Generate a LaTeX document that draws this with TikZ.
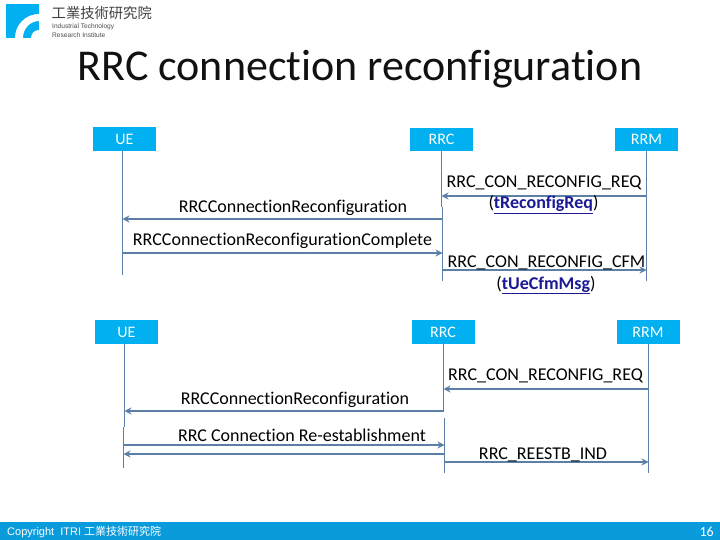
\documentclass[tikz,border=0pt]{standalone}
\usepackage{fontspec}
\usetikzlibrary{arrows.meta}
\setmainfont[Ligatures=NoCommon]{Carlito}
\newfontfamily\cjkf{Noto Sans CJK TC}
\newfontfamily\arialf{Liberation Sans}
\definecolor{boxblue}{HTML}{00B0F0}
\definecolor{linecol}{HTML}{5B7FA6}
\definecolor{footblue}{HTML}{0A9BDC}
\definecolor{linkblue}{HTML}{1A1A96}
\definecolor{titlecol}{HTML}{111111}
\tikzset{
 x=1pt,y=-1pt,
 actor/.style={fill=boxblue,text=white,font=\fontsize{16}{18}\selectfont,inner sep=0pt,minimum width=63pt,minimum height=23.5pt,anchor=center},
 life/.style={draw=linecol,line width=0.9pt},
 msg/.style={draw=linecol,line width=1.9pt,-{Stealth[length=7pt,width=7pt]}},
 lab/.style={font=\fontsize{18}{20}\selectfont,text=black,inner sep=0pt,anchor=base}
}
\newcommand{\lnk}[1]{\textcolor{linkblue}{\underline{\textbf{#1}}}}
\begin{document}
\begin{tikzpicture}
\useasboundingbox (0,0) rectangle (720,540);
\fill[white] (0,0) rectangle (720,540);
% logo
\fill[boxblue] (6,4) rectangle (39,38);
\fill[white] (15,38) arc[start angle=180,end angle=90,x radius=24,y radius=-24] -- (39,21) arc[start angle=90,end angle=180,x radius=16,y radius=-17] -- cycle;
\fill[white] (31,38) arc[start angle=180,end angle=90,x radius=8,y radius=-8] -- (39,38) -- cycle;
\node[font=\cjkf\fontsize{14.3}{15}\selectfont,text=black!75,inner sep=0pt,anchor=west] (logoa) at (51.5,13) {工業技術研究院};
\node[font=\arialf\fontsize{6.6}{7}\selectfont,text=black!70,inner sep=0pt,anchor=west] (logob) at (52,26.5) {Industrial Technology};
\node[font=\arialf\fontsize{6.6}{7}\selectfont,text=black!70,inner sep=0pt,anchor=west] (logoc) at (52,35) {Research Institute};
% title
\node[font=\fontsize{44}{46}\selectfont,text=titlecol,inner sep=0pt,anchor=base] (title) at (360,81) {RRC connection reconfiguration};
% top actors
\node[actor] (ue1) at (124.5,139) {UE};
\node[actor] (rrc1) at (441.5,139.5) {RRC};
\node[actor] (rrm1) at (646.5,139.5) {RRM};
\coordinate (ue1e) at (122.5,275);
\coordinate (rrc1m) at (441.5,207);
\coordinate (rrc1n) at (442.5,207);
\coordinate (rrc1e) at (442.5,281);
\coordinate (rrm1e) at (646.5,281);
\draw[life] (ue1.south -| ue1e) -- (ue1e);
\draw[life] (rrc1.south) -- (rrc1m);
\draw[life] (rrc1n) -- (rrc1e);
\draw[life] (rrm1.south) -- (rrm1e);
\draw[msg] (rrm1e |- 0,196) -- (rrc1m |- 0,196);
\draw[msg] (rrc1n |- 0,219) -- (ue1e |- 0,219);
\draw[msg] (ue1e |- 0,253) -- (rrc1n |- 0,253);
\draw[msg] (rrc1n |- 0,270) -- (rrm1e |- 0,270);
\node[lab] (l1) at (544,188) {RRC\_CON\_RECONFIG\_REQ};
\node[lab] (l2) at (543.5,209) {(\lnk{tReconfigReq})};
\node[lab] (l3) at (293,212) {RRCConnectionReconfiguration};
\node[lab] (l4) at (282.5,245) {RRCConnectionReconfigurationComplete};
\node[lab] (l5) at (546.5,267) {RRC\_CON\_RECONFIG\_CFM};
\node[lab] (l6) at (546,289) {(\lnk{tUeCfmMsg})};
% bottom actors
\node[actor] (ue2) at (126.5,332) {UE};
\node[actor] (rrc2) at (443,332) {RRC};
\node[actor] (rrm2) at (648,332) {RRM};
\coordinate (ue2a) at (124.5,427);
\coordinate (ue2b) at (123.5,427);
\coordinate (ue2e) at (123.5,468);
\coordinate (rrc2a) at (443.5,411);
\coordinate (rrc2b) at (444.5,418);
\coordinate (rrc2e) at (444.5,473);
\coordinate (rrm2e) at (648.5,473);
\draw[life] (ue2a |- ue2.south) -- (ue2a);
\draw[life] (ue2b) -- (ue2e);
\draw[life] (rrc2a |- rrc2.south) -- (rrc2a);
\draw[life] (rrc2b) -- (rrc2e);
\draw[life] (rrm2e |- rrm2.south) -- (rrm2e);
\draw[msg] (rrm2e |- 0,389) -- (rrc2a |- 0,389);
\draw[msg] (rrc2a |- 0,411) -- (ue2a |- 0,411);
\draw[msg] (ue2e |- 0,445) -- (rrc2b |- 0,445);
\draw[msg] (rrc2b |- 0,454) -- (ue2e |- 0,454);
\draw[msg] (rrc2a |- 0,462) -- (rrm2e |- 0,462);
\node[lab] (l7) at (545.5,380) {RRC\_CON\_RECONFIG\_REQ};
\node[lab] (l8) at (295,404) {RRCConnectionReconfiguration};
\node[lab] (l9) at (302,441) {RRC Connection Re-establishment};
\node[lab] (l10) at (543,459) {RRC\_REESTB\_IND};
% footer
\fill[footblue] (0,522) rectangle (720,540);
\node[font=\arialf\fontsize{11}{12}\selectfont,text=white,inner sep=0pt,anchor=base west] (copy) at (7,535) {Copyright\ \ ITRI \cjkf 工業技術研究院};
\node[font=\fontsize{14}{15}\selectfont,text=white,inner sep=0pt,anchor=base east] (pg) at (714,536) {16};
\end{tikzpicture}
\end{document}
